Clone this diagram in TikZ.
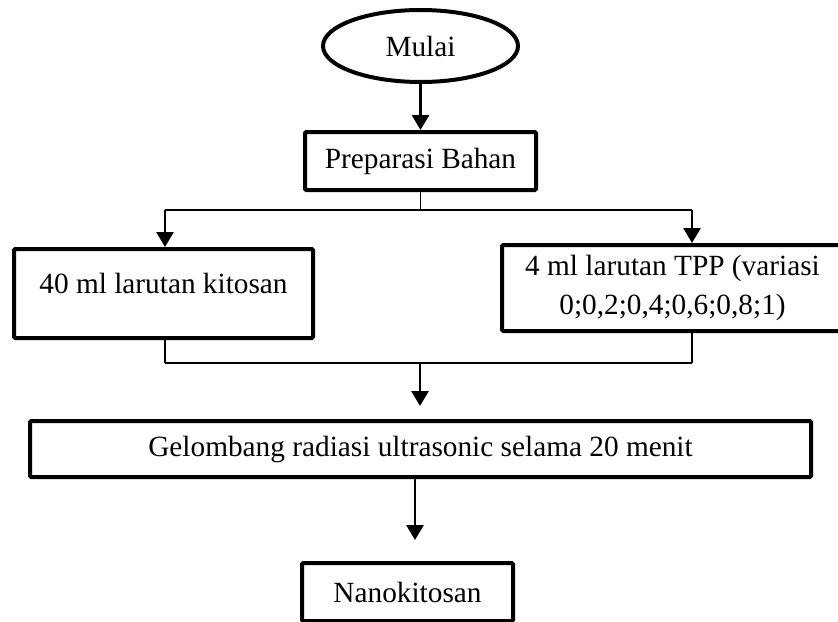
\documentclass[tikz,border=0pt]{standalone}
\usepackage{fontspec}
\setmainfont{Liberation Serif}
\usetikzlibrary{arrows.meta}
\usetikzlibrary{shapes.geometric}
\tikzset{
kotak/.style={draw, rectangle, line width=2pt, inner sep=0pt, align=center, rounded corners=0.6pt},
arah/.style={line width=1.4pt, -{Triangle[width=8.5pt,length=7.5pt]}},
garis/.style={line width=0.9pt},
}

\begin{document}
\begin{tikzpicture}[x=0.5pt,y=-0.5pt, font=\fontsize{14.65}{19.5}\selectfont]
\fill[white] (0,0) rectangle (838,621);
\useasboundingbox (0,0) rectangle (838,621);
\clip (0,0) rectangle (838,621);

\node[draw, ellipse, line width=2pt, minimum width=97.5pt, minimum height=36pt, inner sep=0pt] (mulai) at (420.5,46) {Mulai};
\node[kotak, minimum width=115.5pt, minimum height=29pt] (prep) at (420.5,161) {Preparasi Bahan};
\node[kotak, minimum width=149.5pt, minimum height=44.5pt, text height=1.6ex, text depth=1.6ex] (kitosan) at (163.5,293.5) {40 ml larutan kitosan};
\node[kotak, minimum width=170.5pt, minimum height=43pt] (tpp) at (672.5,288) {4 ml larutan TPP (variasi\\0;0,2;0,4;0,6;0,8;1)};
\node[kotak, minimum width=390.5pt, minimum height=28pt] (gel) at (420.5,449) {Gelombang radiasi ultrasonic selama 20 menit};
\node[kotak, minimum width=105.5pt, minimum height=29pt] (nano) at (407.5,592) {Nanokitosan};

\coordinate (pisah) at (420.5,210);
\coordinate (kiri) at (165,210);
\coordinate (kanan) at (692,210);
\coordinate (gabung) at (420,363);
\coordinate (bawah) at (415,540);

\draw[arah] (mulai.south) -- (prep.north);
\draw[garis] (prep.south) -- (pisah);
\draw[garis] (kiri) -- (kanan);
\draw[arah] (kiri) -- (kiri |- kitosan.north);
\draw[arah] (kanan) -- (kanan |- tpp.north);

\draw[garis] (kitosan.south -| kiri) -- (kiri |- gabung);
\draw[garis] (tpp.south -| kanan) -- (kanan |- gabung);
\draw[garis] (kiri |- gabung) -- (kanan |- gabung);
\draw[arah, shorten >=6.5pt] (gabung) -- (gabung |- gel.north);
\draw[arah] (bawah |- gel.south) -- (bawah);

\end{tikzpicture}
\end{document}
